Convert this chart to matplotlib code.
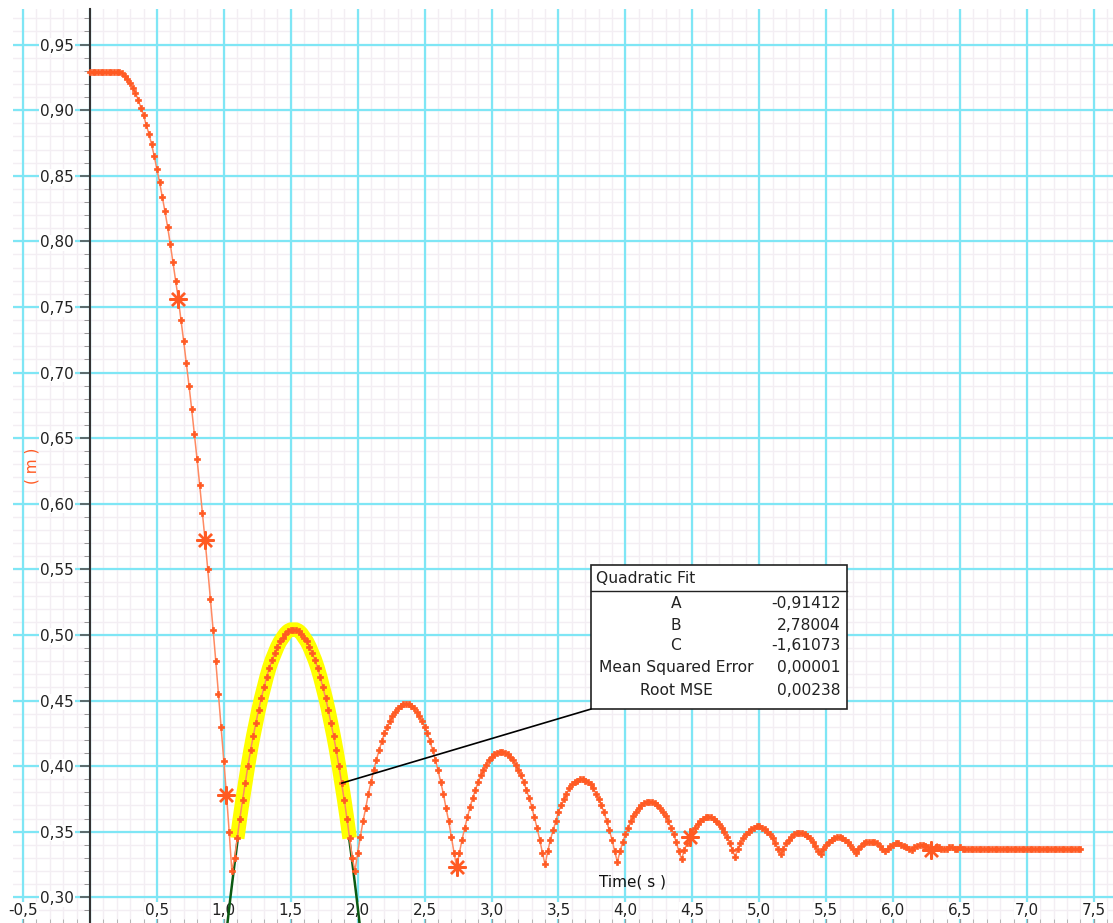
import numpy as np
import matplotlib
matplotlib.use('Agg')
import matplotlib.pyplot as plt
from matplotlib.ticker import MultipleLocator
from matplotlib.patches import Rectangle

# sampling interval of the motion sensor (s)
dt = 0.02

# height (m), one value every dt seconds, by segment
release = [0.929, 0.929, 0.929, 0.929, 0.929, 0.929, 0.929, 0.929, 0.929, 0.929, 0.929]
drop = [0.929, 0.928, 0.926, 0.924, 0.921, 0.917, 0.913, 0.908, 0.902, 0.896,
        0.889, 0.882, 0.874, 0.865, 0.855, 0.845, 0.834, 0.823, 0.811, 0.798,
        0.784, 0.770, 0.756, 0.740, 0.724, 0.707, 0.690, 0.672, 0.653, 0.634,
        0.614, 0.593, 0.572, 0.550, 0.527, 0.504, 0.480, 0.455, 0.430, 0.404,
        0.378, 0.350, 0.320]
bounce1 = [0.330, 0.345, 0.360, 0.374, 0.387, 0.400, 0.412, 0.423, 0.433, 0.443,
           0.452, 0.460, 0.468, 0.475, 0.481, 0.486, 0.491, 0.495, 0.498, 0.501,
           0.503, 0.504, 0.504, 0.504, 0.503, 0.501, 0.498, 0.495, 0.491, 0.486,
           0.481, 0.475, 0.468, 0.460, 0.452, 0.443, 0.433, 0.423, 0.412, 0.400,
           0.387, 0.374, 0.360, 0.345, 0.330, 0.320]
bounce2 = [0.334, 0.346, 0.358, 0.368, 0.379, 0.388, 0.397, 0.405, 0.412, 0.419,
           0.425, 0.430, 0.434, 0.438, 0.441, 0.444, 0.446, 0.447, 0.447, 0.447,
           0.446, 0.444, 0.441, 0.438, 0.434, 0.430, 0.425, 0.419, 0.412, 0.405,
           0.397, 0.388, 0.379, 0.368, 0.358, 0.346, 0.334, 0.323]
bounce3 = [0.334, 0.344, 0.353, 0.361, 0.369, 0.376, 0.382, 0.388, 0.393, 0.397,
           0.401, 0.405, 0.407, 0.409, 0.410, 0.411, 0.411, 0.410, 0.409, 0.407,
           0.405, 0.401, 0.397, 0.393, 0.388, 0.382, 0.376, 0.369, 0.361, 0.353,
           0.344, 0.334, 0.325]
bounce4 = [0.335, 0.344, 0.351, 0.358, 0.365, 0.370, 0.375, 0.379, 0.383, 0.386,
           0.388, 0.389, 0.390, 0.390, 0.389, 0.388, 0.386, 0.383, 0.379, 0.375,
           0.370, 0.365, 0.358, 0.351, 0.344, 0.335, 0.327]
bounce5 = [0.335, 0.342, 0.348, 0.353, 0.358, 0.362, 0.365, 0.368, 0.370, 0.372,
           0.373, 0.373, 0.373, 0.372, 0.370, 0.368, 0.365, 0.362, 0.358, 0.353,
           0.348, 0.342, 0.335, 0.329]
bounce6 = [0.336, 0.341, 0.346, 0.350, 0.353, 0.356, 0.358, 0.360, 0.361, 0.361,
           0.361, 0.360, 0.358, 0.356, 0.353, 0.350, 0.346, 0.341, 0.336, 0.331]
bounce7 = [0.337, 0.341, 0.345, 0.348, 0.350, 0.352, 0.353, 0.354, 0.354, 0.353,
           0.352, 0.350, 0.348, 0.345, 0.341, 0.337, 0.333]
bounce8 = [0.337, 0.341, 0.344, 0.346, 0.348, 0.349, 0.349, 0.349, 0.348, 0.347,
           0.345, 0.342, 0.339, 0.335, 0.333]
bounce9 = [0.337, 0.340, 0.342, 0.344, 0.345, 0.346, 0.346, 0.345, 0.344, 0.342,
           0.340, 0.337, 0.334]
bounce10 = [0.337, 0.339, 0.341, 0.342, 0.342, 0.342, 0.342, 0.341, 0.339, 0.337, 0.335]
bounce11 = [0.337, 0.339, 0.340, 0.341, 0.341, 0.340, 0.339, 0.338, 0.337, 0.336]
settle = [0.338, 0.339, 0.340, 0.340, 0.339, 0.338, 0.336, 0.337, 0.338, 0.338,
          0.337, 0.337, 0.337, 0.338, 0.338, 0.337, 0.337, 0.338]
at_rest = [0.337, 0.337, 0.337, 0.337, 0.337, 0.337, 0.337, 0.337, 0.337, 0.337,
           0.337, 0.337, 0.337, 0.337, 0.337, 0.337, 0.337, 0.337, 0.337, 0.337,
           0.337, 0.337, 0.337, 0.337, 0.337, 0.337, 0.337, 0.337, 0.337, 0.337,
           0.337, 0.337, 0.337, 0.337, 0.337, 0.337, 0.337, 0.337, 0.337, 0.337,
           0.337, 0.337, 0.337, 0.337, 0.337]

# samples marked with an asterisk (times, s)
star_times = [0.66, 0.86, 1.02, 2.74, 4.48, 6.28]
# selected range for the quadratic fit (s)
fit_start, fit_end = 1.10, 1.94
# fit results as shown
fit_names = ['A', 'B', 'C', 'Mean Squared Error', 'Root MSE']
fit_values = ['-0,91412', '2,78004', '-1,61073', '0,00001', '0,00238']
A, B, C = -0.91412, 2.78004, -1.61073
# point the fit box is tied to (s)
callout_time = 1.88

xtick_vals = [-0.5, 0.5, 1.0, 1.5, 2.0, 2.5, 3.0, 3.5, 4.0, 4.5, 5.0, 5.5, 6.0, 6.5, 7.0, 7.5]
xtick_text = ['-0,5', '0,5', '1,0', '1,5', '2,0', '2,5', '3,0', '3,5', '4,0', '4,5',
              '5,0', '5,5', '6,0', '6,5', '7,0', '7,5']
ytick_vals = [0.30, 0.35, 0.40, 0.45, 0.50, 0.55, 0.60, 0.65, 0.70, 0.75, 0.80, 0.85, 0.90, 0.95]
ytick_text = ['0,30', '0,35', '0,40', '0,45', '0,50', '0,55', '0,60', '0,65', '0,70',
              '0,75', '0,80', '0,85', '0,90', '0,95']

##############################################

height = np.array(release + drop + bounce1 + bounce2 + bounce3 + bounce4 + bounce5 +
                  bounce6 + bounce7 + bounce8 + bounce9 + bounce10 + bounce11 +
                  settle + at_rest)
time = np.arange(len(height)) * dt

orange = '#ff5a23'
cyan = '#7fe6f5'
faint = '#f3eef3'

W, H = 1113, 923
fig = plt.figure(figsize=(W / 100, H / 100), dpi=100)
ax = fig.add_axes([13 / W, 0, 1 - 13 / W, 1 - 9 / H])
xmin, xmax = -0.575, 7.643
ymin, ymax = 0.2804, 0.9771
ax.set_xlim(xmin, xmax)
ax.set_ylim(ymin, ymax)
ax.set_axisbelow(True)

# grid drawn under the axis so the tick labels can sit on white
for gx in np.arange(-0.5, 7.65, 0.1):
    ax.axvline(gx, color=faint, lw=1, zorder=0.1)
for gy in np.arange(0.28, 0.98, 0.01):
    ax.axhline(gy, color=faint, lw=1, zorder=0.1)
for gx in np.arange(-0.5, 7.65, 0.5):
    ax.axvline(gx, color=cyan, lw=1.6, zorder=0.2)
for gy in np.arange(0.30, 0.96, 0.05):
    ax.axhline(gy, color=cyan, lw=1.6, zorder=0.2)

# fit curve, highlighted range, data
tf = np.linspace(0.98, 2.06, 200)
ax.plot(tf, A * tf**2 + B * tf + C, color='#0b5a12', lw=1.8, zorder=2)
sel = (time >= fit_start - 1e-9) & (time <= fit_end + 1e-9)
ax.plot(time[sel], height[sel], color='#ffff00', lw=10.5, solid_capstyle='butt', zorder=3)
ax.plot(time, height, color='#ff8a62', lw=1.1, marker='P', ms=4.2, mfc=orange,
        mec=orange, mew=0.5, zorder=4)
idx = [int(round(s / dt)) for s in star_times]
ax.plot(time[idx], height[idx], ls='none', marker=(8, 2, 0), ms=13, mec=orange,
        mew=1.7, zorder=5)

# fit result box
bx0, bx1, by0, by1 = 0.5255, 0.7582, 0.2341, 0.3917
ax.add_patch(Rectangle((bx0, by0), bx1 - bx0, by1 - by0, transform=ax.transAxes,
                       facecolor='white', edgecolor='#222222', lw=1.2, zorder=6))
ax.plot([bx0, bx1], [0.3632, 0.3632], transform=ax.transAxes, color='#222222',
        lw=1, zorder=7)
ax.text(0.530, 0.3764, 'Quadratic Fit', transform=ax.transAxes, fontsize=11.2,
        va='center', ha='left', color='#222222', zorder=8)
row_y = [0.3501, 0.3260, 0.3031, 0.2790, 0.2549]
for name, val, ry in zip(fit_names, fit_values, row_y):
    ax.text(0.6027, ry, name, transform=ax.transAxes, fontsize=11.2, va='center',
            ha='center', color='#222222', zorder=8)
    ax.text(0.7527, ry, val, transform=ax.transAxes, fontsize=11.2, va='center',
            ha='right', color='#222222', zorder=8)
ci = int(round(callout_time / dt))
ax.annotate('', xy=(time[ci], height[ci]), xycoords='data', xytext=(bx0, by0),
            textcoords='axes fraction',
            arrowprops=dict(arrowstyle='-', color='black', lw=1.2, shrinkA=0, shrinkB=0),
            zorder=6)

# axes
for s in ['top', 'right', 'bottom']:
    ax.spines[s].set_visible(False)
ax.spines['left'].set_position(('data', 0))
ax.spines['left'].set_color('#333333')
ax.spines['left'].set_linewidth(1.5)

ax.set_xticks(xtick_vals, xtick_text)
ax.set_yticks(ytick_vals, ytick_text)
ax.xaxis.set_minor_locator(MultipleLocator(0.1))
ax.yaxis.set_minor_locator(MultipleLocator(0.01))
ax.tick_params(axis='x', which='major', direction='in', length=6, color='#999999',
               pad=-14.5, labelsize=11, labelcolor='#222222')
ax.tick_params(axis='x', which='minor', direction='in', length=3, color='#aaaaaa')
ax.tick_params(axis='y', which='major', direction='out', length=7, width=1.2,
               color='#555555', pad=4.5, labelsize=11, labelcolor='#222222')
ax.tick_params(axis='y', which='minor', direction='out', length=4, color='#888888')
for lab in ax.get_xticklabels() + ax.get_yticklabels():
    lab.set_bbox(dict(facecolor='white', edgecolor='none', pad=0.5))

ax.set_xlabel('Time( s )', fontsize=11, color='#111111', va='center')
ax.xaxis.set_label_coords(0.5636, 0.0449)
ax.set_ylabel('( m )', fontsize=11, color=orange, va='center')
ax.yaxis.set_label_coords(0.017, 0.50)

plt.savefig('out.png', dpi=100)
